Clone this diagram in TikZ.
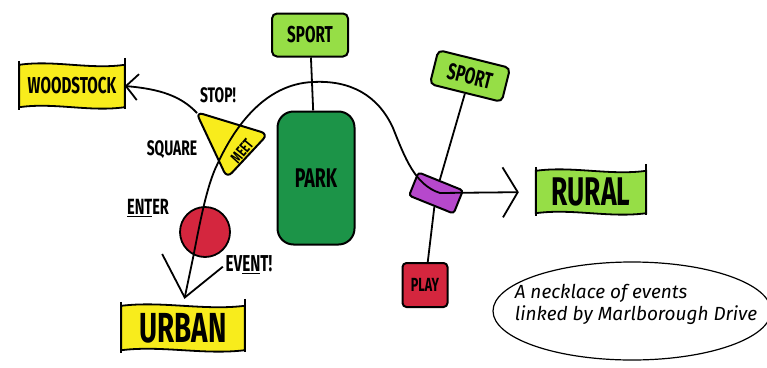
\documentclass[tikz,border=0pt]{standalone}
\usepackage{fontspec}
\setmainfont{Fira Sans}
\newfontfamily\marker[FakeStretch=0.66]{Fira Sans}
\usetikzlibrary{arrows.meta,calc,shapes.geometric,backgrounds}
\definecolor{hiyellow}{RGB}{248,236,28}
\definecolor{lime}{RGB}{150,222,70}
\definecolor{parkgreen}{RGB}{28,148,72}
\definecolor{eventred}{RGB}{212,38,62}
\definecolor{linkpurple}{RGB}{182,72,204}
\newcommand\mk[1]{\marker\bfseries\fontsize{#1}{#1}\selectfont}
% wavy banner behind a named node
\newcommand\flagbox[2]{%
  \begin{scope}[on background layer]
    \filldraw[line width=1.8pt, fill=#2]
      (#1.north west) .. controls ($(#1.north west)!0.33!(#1.north east)+(0,-5)$)
        and ($(#1.north west)!0.67!(#1.north east)+(0,5)$) .. (#1.north east)
      -- (#1.south east) .. controls ($(#1.south west)!0.67!(#1.south east)+(0,5)$)
        and ($(#1.south west)!0.33!(#1.south east)+(0,-5)$) .. (#1.south west) -- cycle;
    \draw[line width=1.8pt] ($(#1.north west)+(0,-4)$) -- ($(#1.south west)+(0,3)$)
      ($(#1.north east)+(0,-7)$) -- ($(#1.south east)+(0,2)$);
  \end{scope}}
\begin{document}
\begin{tikzpicture}[x=1pt, y=-1pt,
  every node/.style={font=\mk{21}},
  ink/.style={line width=1.8pt},
  tag/.style={draw, line width=2pt, rounded corners=5pt, fill=lime, inner sep=0pt},
  banner/.style={inner sep=0pt}]
\useasboundingbox (0,0) rectangle (767,367);
% banners
\node[banner, minimum width=105pt, minimum height=42pt, font=\mk{23}] (woodstock) at (72,86) {WOODSTOCK};
\flagbox{woodstock}{hiyellow}
\node[banner, minimum width=123pt, minimum height=44pt, font=\mk{42}] (urban) at (183,328) {URBAN};
\flagbox{urban}{hiyellow}
\node[banner, minimum width=110pt, minimum height=42pt, font=\mk{40}] (rural) at (591,192) {RURAL};
\flagbox{rural}{lime}
% places along the drive
\node[tag, minimum width=76pt, minimum height=43pt, font=\mk{23}] (sport1) at (310,35) {SPORT};
\node[tag, fill=parkgreen, rounded corners=16pt, minimum width=77pt, minimum height=133pt, font=\mk{27}] (park) at (316,178) {PARK};
\node[tag, rotate=-14, minimum width=74pt, minimum height=35pt, font=\mk{23}] (sport2) at (470,76) {SPORT};
\node[tag, fill=linkpurple, rounded corners=3pt, rotate=-22, minimum width=48pt, minimum height=25pt] (link) at (436,193) {};
\node[tag, fill=eventred, rounded corners=4pt, minimum width=45pt, minimum height=44pt, font=\mk{19}] (play) at (425,285) {PLAY};
\node[draw, ink, circle, fill=eventred, minimum size=50pt] (ev) at (205,232) {};
\filldraw[line width=2pt, fill=hiyellow, rounded corners=7pt] (196,112) -- (268,134) -- (227,178) -- cycle;
\coordinate (meetcorner) at (197,113);
\node[rotate=50, font=\mk{16}] (meet) at (242,151) {MEET};
% labels
\node (stop) at (218,95) {STOP!};
\node (square) at (172,150) {SQUARE};
\node[font=\mk{22}] (enter) at (148,208) {\underline{ENT}ER};
\node[font=\mk{23}] (event) at (249,265) {EV\underline{EN}T!};
% connectors
\draw[ink] (sport1) -- (park);
\draw[ink] (sport2) -- (link) -- (play);
\draw[ink, -{Straight Barb[length=12pt,width=26pt]}] (meetcorner) .. controls (181,96) and (160,89) .. (woodstock.east);
\draw[ink, {Straight Barb[length=38pt,width=62pt]}-{Straight Barb[length=15pt,width=50pt]}, shorten <=7pt, shorten >=17pt]
  (urban.north) -- (193,258) .. controls (200,222) and (207,185) .. (217,165)
  .. controls (232,132) and (262,84) .. (313,82) .. controls (350,80) and (378,95) .. (393,128)
  .. controls (405,158) and (415,185) .. (440,193) -- (rural.west);
% note
\node[draw, line width=1.2pt, ellipse, minimum width=278pt, minimum height=98pt, inner sep=0pt,
  label={[align=left, yshift=7pt, xshift=4pt, font=\normalfont\itshape\fontsize{19}{22}\selectfont]center:A necklace of events\\linked by Marlborough Drive}] (note) at (632,311) {};
\end{tikzpicture}
\end{document}
